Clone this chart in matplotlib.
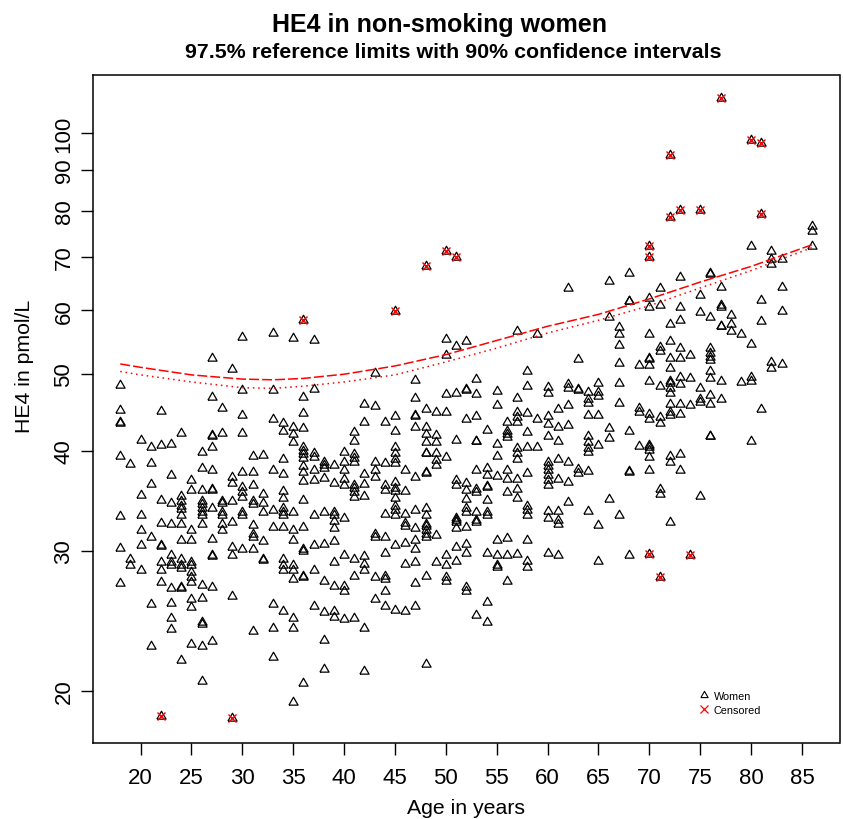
import matplotlib
matplotlib.use("Agg")
import matplotlib.pyplot as plt
from matplotlib.lines import Line2D
from matplotlib.ticker import NullLocator, FixedLocator, FixedFormatter

plt.rcParams['font.family'] = ['Liberation Sans', 'DejaVu Sans']

# ---------------- data ----------------
age_groups = list(range(18, 87))
he4_groups = [
    [48.4, 45.0, 43.5, 43.3, 39.4, 33.1, 30.2, 27.3],                      # 18
    [38.5, 29.3, 28.8],                                                     # 19
    [41.3, 35.2, 33.2, 31.8, 30.5, 28.4],                                   # 20
    [40.5, 38.6, 36.4, 31.2, 25.7, 22.8],                                   # 21
    [44.9, 40.7, 34.7, 32.5, 30.5, 30.4, 29.0, 28.4, 27.4, 18.6],           # 22
    [40.8, 37.3, 34.4, 32.4, 29.6, 29.0, 28.8, 26.9, 25.8, 24.7, 23.9],     # 23
    [42.1, 35.1, 34.6, 34.1, 33.8, 33.2, 32.4, 30.9, 29.3, 28.8, 28.5,
     27.0, 26.9, 21.9],                                                     # 24
    [36.8, 35.7, 31.8, 30.9, 29.0, 28.8, 28.2, 27.8, 27.4, 26.1, 25.5, 22.9],  # 25
    [39.9, 38.1, 35.7, 34.6, 34.3, 33.9, 33.5, 33.2, 32.4, 27.2, 26.2,
     24.4, 24.3, 22.8, 20.6],                                               # 26
    [52.3, 46.7, 41.9, 41.8, 40.4, 37.9, 35.8, 35.7, 33.9, 31.0, 29.6,
     29.5, 27.0, 23.1],                                                     # 27
    [45.3, 42.1, 34.6, 34.4, 33.5, 33.2, 32.4, 31.8],                       # 28
    [50.6, 37.1, 36.5, 34.6, 32.6, 30.3, 29.6, 26.3, 18.5],                 # 29
    [55.6, 47.7, 44.3, 42.1, 37.6, 36.0, 35.5, 35.0, 33.5, 33.2, 30.1],     # 30
    [39.4, 37.6, 36.2, 34.6, 34.3, 32.3, 31.5, 31.2, 30.1, 23.8],           # 31
    [39.5, 35.3, 34.4, 33.5, 30.8, 29.3, 29.2],                             # 32
    [56.2, 47.7, 43.9, 37.8, 33.7, 32.1, 25.7, 24.0, 22.1],                 # 33
    [43.3, 42.4, 39.1, 37.4, 35.6, 34.9, 33.9, 33.5, 33.2, 32.1, 29.3,
     28.8, 28.4, 25.2],                                                     # 34
    [55.4, 42.8, 42.0, 41.0, 33.5, 31.8, 30.9, 28.8, 28.4, 27.6, 24.7,
     24.0, 19.4],                                                           # 35
    [58.4, 46.7, 44.6, 42.7, 40.4, 40.0, 39.6, 39.2, 38.3, 37.6, 36.7,
     34.7, 32.1, 30.1, 30.0, 27.9, 27.8, 20.5],                             # 36
    [55.0, 47.8, 39.8, 39.3, 37.8, 36.8, 33.2, 30.5, 28.4, 25.6],           # 37
    [38.7, 38.4, 38.1, 37.0, 33.5, 30.6, 27.5, 25.1, 23.2, 21.3],           # 38
    [38.4, 36.5, 33.5, 33.2, 32.7, 32.0, 30.8, 29.0, 27.1, 25.2, 24.8],     # 39
    [39.9, 38.7, 37.9, 36.9, 36.2, 33.0, 29.6, 27.1, 26.7, 24.6],           # 40
    [42.2, 41.2, 39.6, 39.2, 38.7, 36.2, 35.9, 35.5, 35.0, 29.3, 27.9, 24.7],  # 41
    [45.8, 43.5, 37.4, 36.4, 35.1, 29.5, 28.9, 28.4, 24.0, 21.2],           # 42
    [50.1, 45.5, 38.7, 37.8, 37.1, 31.5, 31.2, 27.8, 26.1],                 # 43
    [43.5, 38.6, 36.3, 35.7, 33.3, 31.2, 29.8, 27.9, 27.6, 26.7, 25.6],     # 44
    [59.8, 44.2, 42.3, 40.4, 39.7, 39.1, 38.6, 36.6, 35.9, 35.6, 34.9,
     34.1, 33.7, 33.2, 30.5, 25.3],                                         # 45
    [37.8, 35.6, 33.3, 32.5, 32.2, 30.7, 28.9, 25.2],                       # 46
    [49.1, 46.6, 44.3, 44.2, 42.8, 37.1, 33.7, 32.0, 30.9, 30.1, 29.0,
     27.3, 25.6],                                                           # 47
    [68.1, 45.1, 42.8, 42.0, 41.0, 39.8, 39.7, 37.6, 37.5, 33.9, 33.2,
     32.4, 32.2, 31.8, 31.5, 31.2, 27.9, 21.6],                             # 48
    [44.8, 41.9, 41.0, 39.7, 39.0, 38.4, 31.4, 29.0],                       # 49
    [71.1, 55.2, 52.7, 47.1, 44.8, 39.3, 29.6, 28.8, 27.8, 27.5],           # 50
    [70.0, 54.2, 47.3, 41.3, 36.8, 36.2, 33.0, 32.8, 32.6, 32.0, 30.3, 29.1],  # 51
    [54.9, 47.8, 47.7, 43.9, 36.5, 35.7, 34.8, 33.9, 33.5, 32.1, 30.6,
     29.8, 27.0, 26.7],                                                     # 52
    [49.2, 47.1, 44.2, 41.2, 41.1, 37.8, 35.8, 35.5, 33.5, 32.8, 32.6, 24.9],  # 53
    [42.5, 38.1, 37.3, 36.1, 36.0, 34.7, 33.5, 33.2, 29.8, 25.9, 24.4],     # 54
    [47.6, 45.6, 40.8, 39.4, 37.2, 30.9, 29.6, 28.8, 28.6],                 # 55
    [43.5, 42.4, 42.0, 41.6, 37.8, 36.9, 35.5, 31.1, 29.6, 27.5],           # 56
    [56.5, 46.6, 44.8, 44.1, 43.5, 40.3, 39.8, 39.1, 36.9, 35.8, 34.9, 29.7],  # 57
    [50.3, 48.3, 44.6, 42.2, 40.5, 37.5, 34.1, 33.7, 33.2, 30.9, 29.1, 28.6],  # 58
    [56.0, 43.9, 40.5],                                                     # 59
    [48.1, 47.3, 44.2, 43.2, 41.8, 38.7, 38.3, 37.8, 37.3, 36.8, 36.2,
     33.6, 33.0, 29.8],                                                     # 60
    [45.1, 42.8, 41.2, 39.1, 36.9, 33.6, 32.8, 32.4, 29.6],                 # 61
    [64.0, 48.5, 48.0, 45.6, 43.1, 38.7, 36.6, 34.5],                       # 62
    [52.1, 47.8, 47.7, 38.0, 37.5],                                         # 63
    [47.4, 46.5, 45.9, 44.3, 41.8, 41.0, 40.3, 39.9, 37.7, 33.6],           # 64
    [48.7, 47.4, 46.9, 44.3, 40.7, 32.3, 29.1],                             # 65
    [65.3, 58.9, 42.7, 41.5, 34.8],                                         # 66
    [57.2, 56.1, 54.3, 51.5, 48.7, 45.9, 33.2],                             # 67
    [66.8, 61.7, 61.6, 42.3, 37.7, 37.6, 29.6],                             # 68
    [51.2, 45.3, 44.8, 40.6],                                               # 69
    [72.2, 70.0, 62.2, 60.5, 56.1, 52.3, 52.2, 51.2, 49.0, 44.5, 43.9,
     40.7, 40.4, 40.1, 39.3, 37.8, 29.7],                                   # 70
    [63.9, 60.9, 53.9, 53.3, 48.3, 44.1, 43.4, 35.8, 35.3, 27.8],           # 71
    [93.9, 78.6, 57.6, 54.9, 52.3, 50.8, 49.0, 48.6, 47.9, 47.3, 45.8,
     44.7, 44.3, 39.4, 38.7, 32.6],                                         # 72
    [80.2, 66.0, 60.6, 58.3, 53.8, 52.3, 49.5, 48.5, 45.8, 44.5, 39.6, 37.8],  # 73
    [52.7, 49.3, 45.7, 29.6],                                               # 74
    [80.2, 62.8, 59.7, 48.0, 46.5, 46.0, 35.1],                             # 75
    [66.8, 66.7, 58.9, 53.8, 53.0, 52.5, 52.0, 50.3, 49.3, 47.0, 45.8,
     41.8, 41.7],                                                           # 76
    [110.8, 64.2, 61.0, 60.6, 57.4, 57.3, 48.9, 46.5],                      # 77
    [59.2, 57.6, 56.6],                                                     # 78
    [56.1, 48.8],                                                           # 79
    [98.2, 72.2, 54.5, 49.5, 49.0, 41.1],                                   # 80
    [97.3, 79.3, 61.9, 58.1, 45.1],                                         # 81
    [71.1, 69.6, 68.6, 51.7, 50.8],                                         # 82
    [69.6, 64.2, 59.8, 51.4],                                               # 83
    [],                                                                     # 84
    [],                                                                     # 85
    [76.6, 75.5, 72.2],                                                     # 86
]

censored_age = [22, 29, 36, 45, 48, 50, 51, 70, 70, 70, 71, 72, 72, 73, 74,
                75, 77, 80, 81, 81]
censored_he4 = [18.6, 18.5, 58.4, 59.8, 68.1, 71.1, 70.0, 72.2, 70.0, 29.7,
                27.8, 93.9, 78.6, 80.2, 29.6, 80.2, 110.8, 98.2, 97.3, 79.3]

curve_age = [18, 20, 25, 30, 33, 36, 40, 45, 50, 55, 60, 65, 70, 75, 80, 86]
limit_dashed = [51.4, 50.9, 49.8, 49.2, 49.1, 49.3, 49.9, 51.1, 52.8, 55.0,
                57.3, 59.3, 62.0, 65.1, 68.1, 72.5]
limit_dotted = [50.3, 49.8, 48.8, 48.0, 47.9, 48.2, 48.8, 49.8, 51.7, 53.8,
                56.2, 58.3, 60.8, 64.0, 67.3, 71.9]

x_ticks = [20, 25, 30, 35, 40, 45, 50, 55, 60, 65, 70, 75, 80, 85]
y_ticks = [20, 30, 40, 50, 60, 70, 80, 90, 100]

# flatten the groups
women_age = []
women_he4 = []
for a, vals in zip(age_groups, he4_groups):
    for v in vals:
        women_age.append(a)
        women_he4.append(v)

# ---------------- figure ----------------
W, H = 843, 820
fig = plt.figure(figsize=(W / 100, H / 100), dpi=100)
L, R, T, B = 92.7, 839.5, 76.0, 744.0
ax = fig.add_axes([L / W, 1 - B / H, (R - L) / W, (B - T) / H])

tri = [(-0.5, -0.2887), (0.5, -0.2887), (0.0, 0.5774), (-0.5, -0.2887)]

ax.plot(women_age, women_he4, ls='none', marker=tri, ms=7.6,
        mfc='none', mec='black', mew=0.9)
ax.plot(censored_age, censored_he4, ls='none', marker='x', ms=6.3,
        mec='red', mew=1.0)

ax.plot(curve_age, limit_dashed, color='red', lw=1.1, dashes=(6.5, 2.0))
ax.plot(curve_age, limit_dotted, color='red', lw=1.1, dashes=(1.0, 2.5))

ax.set_yscale('log')
ax.set_xlim(15.29, 88.69)
ax.set_ylim(17.22, 118.3)

ax.xaxis.set_major_locator(FixedLocator(x_ticks))
ax.xaxis.set_minor_locator(NullLocator())
ax.yaxis.set_major_locator(FixedLocator(y_ticks))
ax.yaxis.set_major_formatter(FixedFormatter([str(v) for v in y_ticks]))
ax.yaxis.set_minor_locator(NullLocator())

ax.tick_params(axis='both', direction='out', length=8.6, width=1.0,
               labelsize=16, color='black')
ax.tick_params(axis='x', pad=9.0)
ax.tick_params(axis='y', pad=4.5)
for lab in ax.get_yticklabels():
    lab.set_rotation(90)
    lab.set_va('center')

for sp in ax.spines.values():
    sp.set_linewidth(1.1)

# texts
fig.text(439 / W, 1 - 31.7 / H, 'HE4 in non-smoking women', ha='center',
         va='baseline', fontsize=18, fontweight='bold')
fig.text(453 / W, 1 - 58.3 / H,
         '97.5% reference limits with 90% confidence intervals',
         ha='center', va='baseline', fontsize=15.4, fontweight='bold')
fig.text((L + R) / 2 / W, 1 - 814.5 / H, 'Age in years', ha='center',
         va='baseline', fontsize=15.3)
fig.text(25 / W, 1 - 366 / H, 'HE4 in pmol/L', ha='center',
         va='center', rotation=90, fontsize=15.3)

# legend
handles = [
    Line2D([], [], ls='none', marker=tri, ms=6.0, mfc='none', mec='black', mew=0.8),
    Line2D([], [], ls='none', marker='x', ms=6.0, mec='red', mew=0.9),
]
ax.legend(handles, ['Women', 'Censored'], loc='center left',
          bbox_to_anchor=((704 - 5.4 - L) / (R - L), 1 - (704 - T) / (B - T)),
          frameon=False, fontsize=7.8, handlelength=1.0, handletextpad=0.4,
          borderpad=0.0, borderaxespad=0.0, labelspacing=0.35)

fig.savefig('out.png', dpi=100)
